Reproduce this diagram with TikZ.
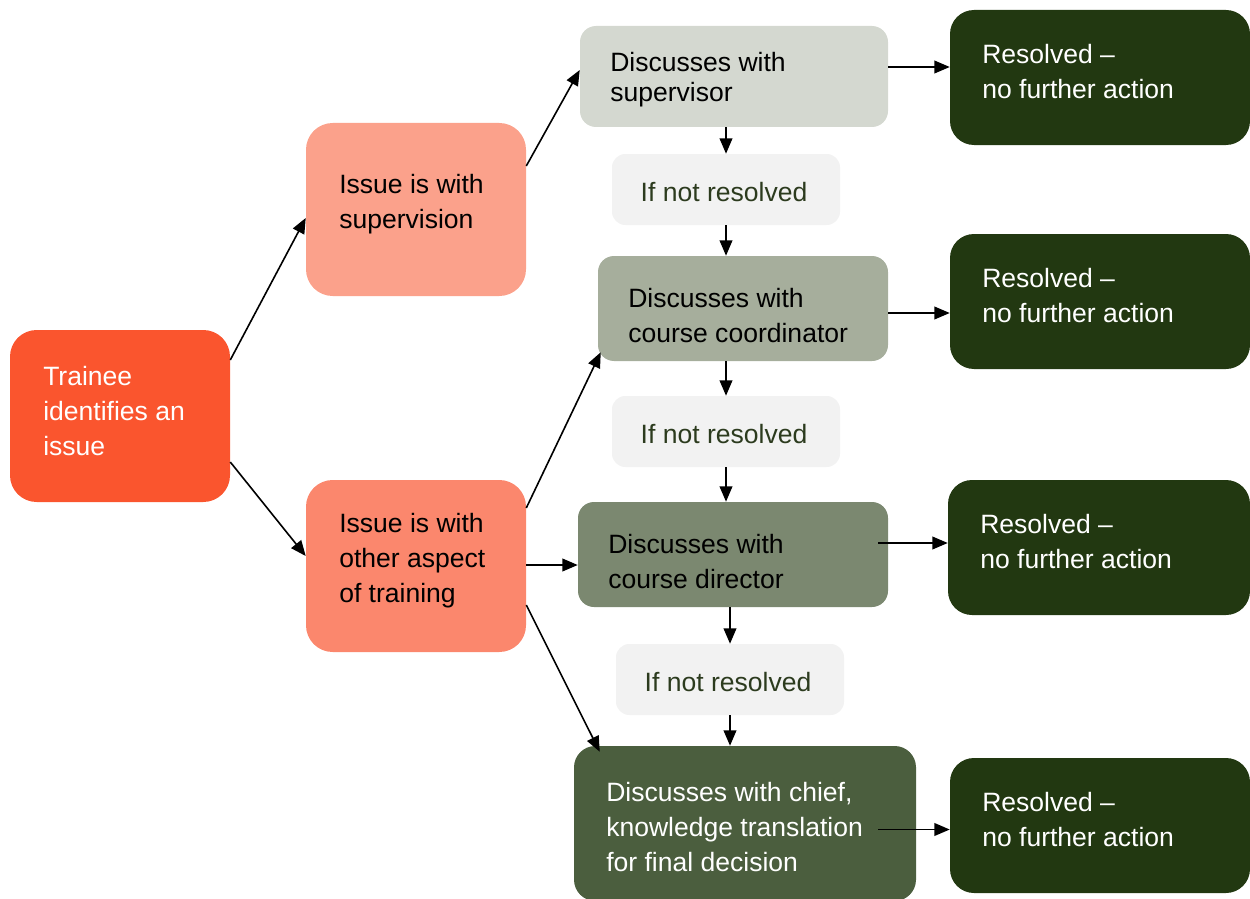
\documentclass[tikz,border=0pt]{standalone}
\usepackage{fontspec}
\setmainfont{Liberation Sans}
\usetikzlibrary{arrows.meta,fit,calc}
\definecolor{cTrainee}{HTML}{FA552E}
\definecolor{cSup}{HTML}{FBA18B}
\definecolor{cOther}{HTML}{FB876D}
\definecolor{cD1}{HTML}{D4D8D0}
\definecolor{cD2}{HTML}{A6AE9C}
\definecolor{cD3}{HTML}{7B8870}
\definecolor{cD4}{HTML}{4B5E3E}
\definecolor{cRes}{HTML}{223811}
\definecolor{cIf}{HTML}{F2F2F2}
\definecolor{cIfText}{HTML}{2C3B1E}
\begin{document}
\begin{tikzpicture}[x=0.75pt,y=-0.75pt,
  box/.style={draw=none,inner sep=0pt,rounded corners=#1},
  box/.default=15pt,
  txt/.style={inner sep=0pt,anchor=west,align=left,yshift=-2.2pt,font=\fontsize{19.9pt}{26.25pt}\selectfont},
  iftxt/.style={inner sep=0pt,text=cIfText,yshift=-2.2pt,font=\fontsize{19.9pt}{26.25pt}\selectfont},
  arr/.style={line width=1.2pt,-{Triangle[length=11.5pt,width=9.5pt]}}]
\useasboundingbox (0,0) rectangle (1250,899);
% boxes
\node[box=20pt,fill=cTrainee,fit={(10,330)(230,502)}] (trainee) {};
\node[box=20pt,fill=cSup,fit={(306,123)(526,296)}] (sup) {};
\node[box=20pt,fill=cOther,fit={(306,480)(526,652)}] (other) {};
\node[box=12pt,fill=cD1,fit={(580,26)(888,127)}] (d1) {};
\node[box=12pt,fill=cD2,fit={(598,256)(888,361)}] (d2) {};
\node[box=12pt,fill=cD3,fit={(578,502)(888,607)}] (d3) {};
\node[box=16pt,fill=cD4,fit={(574,746)(916,901)}] (d4) {};
\node[box=10pt,fill=cIf,fit={(612,154)(840,225)}] (if1) {};
\node[box=10pt,fill=cIf,fit={(612,396)(840,467)}] (if2) {};
\node[box=10pt,fill=cIf,fit={(616,644)(844,715)}] (if3) {};
\node[box=18pt,fill=cRes,fit={(950,10)(1250,145)}] (r1) {};
\node[box=18pt,fill=cRes,fit={(950,234)(1250,369)}] (r2) {};
\node[box=18pt,fill=cRes,fit={(948,480)(1250,615)}] (r3) {};
\node[box=18pt,fill=cRes,fit={(950,758)(1250,893)}] (r4) {};
% texts
\node[txt,text=white] (ttrainee) at (43,408) {Trainee\\identifies an\\issue};
\node[txt] (tsup) at (339,201) {Issue is with\\supervision};
\node[txt] (tother) at (339,558) {Issue is with\\other aspect\\of training};
\node[txt,font=\fontsize{19.9pt}{22.5pt}\selectfont] (td1) at (610,77) {Discusses with\\supervisor};
\node[txt] (td2) at (628,313) {Discusses with\\course coordinator};
\node[txt] (td3) at (608,559) {Discusses with\\course director};
\node[txt,text=white] (td4) at (606,824) {Discusses with chief,\\knowledge translation\\for final decision};
\node[iftxt] (tif1) at ($(if1)+(-2,0)$) {If not resolved};
\node[iftxt] (tif2) at ($(if2)+(-2,0)$) {If not resolved};
\node[iftxt] (tif3) at ($(if3)+(-2,0)$) {If not resolved};
\node[txt,text=white] (tr1) at (982,69) {Resolved --\\no further action};
\node[txt,text=white] (tr2) at (982,293) {Resolved --\\no further action};
\node[txt,text=white] (tr3) at (980,539) {Resolved --\\no further action};
\node[txt,text=white] (tr4) at (982,817) {Resolved --\\no further action};
% connectors
\draw[arr] ($(trainee.east)+(0,-56)$) -- ($(sup.west)+(0,8.5)$);
\draw[arr] ($(trainee.east)+(0,46)$) -- ($(other.west)+(0,-10)$);
\draw[arr] ($(sup.east)+(0,-43.5)$) -- ($(d1.west)+(0,-6.5)$);
\draw[arr] ($(other.east)+(0,-58)$) -- ($(d2.south west)+(3,-9)$);
\draw[arr] ($(other.east)+(0,-1)$) -- ($(d3.west)+(0,10.5)$);
\draw[arr] ($(other.east)+(0,39)$) -- ($(d4.north west)+(26,6)$);
\coordinate (s1) at ($(d1.east)+(0,-9.5)$);
\draw[arr] (s1) -- (s1 -| r1.west);
\coordinate (s2) at ($(d2.east)+(0,4.5)$);
\draw[arr] (s2) -- (s2 -| r2.west);
\coordinate (s3) at ($(d3.east)+(-10,-11.5)$);
\draw[arr] (s3) -- (s3 -| r3.west);
\coordinate (s4) at ($(d4.east)+(-38,6)$);
\draw[arr] (s4) -- (s4 -| r4.west);
\draw[arr] (if1.north |- d1.south) -- (if1.north);
\draw[arr] (if1.south) -- (if1.south |- d2.north);
\draw[arr] (if2.north |- d2.south) -- (if2.north);
\draw[arr] (if2.south) -- (if2.south |- d3.north);
\draw[arr] (if3.north |- d3.south) -- (if3.north);
\draw[arr] (if3.south) -- (if3.south |- d4.north);
\end{tikzpicture}
\end{document}
